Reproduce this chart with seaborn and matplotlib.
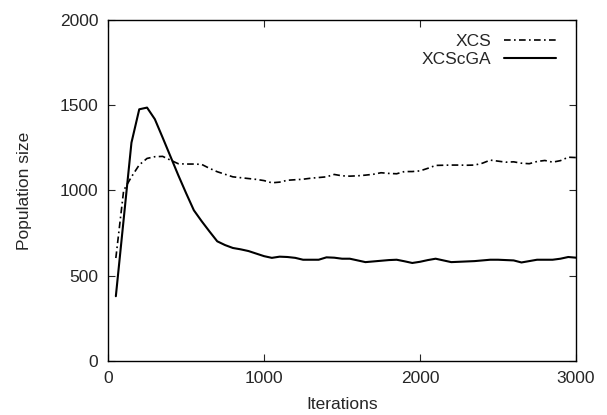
import numpy as np
import pandas as pd
import matplotlib
matplotlib.use("Agg")
import matplotlib.pyplot as plt
import seaborn as sns

# iterations sampled every 50 steps
iterations = list(range(50, 3001, 50))

xcs = [604, 1000, 1080, 1150, 1188, 1198, 1200, 1178, 1157, 1155,
       1155, 1153, 1130, 1110, 1095, 1080, 1075, 1070, 1065, 1058,
       1045, 1049, 1060, 1063, 1066, 1072, 1076, 1080, 1094, 1086,
       1084, 1086, 1090, 1095, 1104, 1100, 1098, 1111, 1111, 1115,
       1130, 1147, 1148, 1149, 1149, 1148, 1149, 1160, 1178, 1172,
       1166, 1168, 1160, 1157, 1170, 1176, 1166, 1175, 1195, 1193]

xcscga = [380, 830, 1280, 1476, 1486, 1418, 1310, 1200, 1090, 985,
          884, 820, 760, 702, 680, 663, 655, 645, 630, 615,
          605, 612, 610, 605, 594, 594, 594, 608, 606, 600,
          600, 590, 580, 584, 588, 592, 594, 585, 575, 582,
          592, 600, 590, 580, 582, 584, 586, 590, 594, 594,
          592, 590, 578, 586, 594, 594, 594, 600, 610, 606]

df = pd.DataFrame({"Iterations": iterations, "XCS": xcs, "XCScGA": xcscga})

sns.set_style("ticks")
plt.rcParams['font.family'] = ['Liberation Sans', 'DejaVu Sans']

fig = plt.figure(figsize=(6.07, 4.15), dpi=100)
ax = fig.add_axes([0.178, 0.130, 0.771, 0.822])

sns.lineplot(data=df, x="Iterations", y="XCS", ax=ax, color="black",
             linewidth=1.2, linestyle=(0, (4, 2, 1, 2)), label="XCS")
sns.lineplot(data=df, x="Iterations", y="XCScGA", ax=ax, color="black",
             linewidth=1.5, label="XCScGA")

ax.set_xlim(0, 3000)
ax.set_ylim(0, 2000)
ax.set_xticks([0, 1000, 2000, 3000])
ax.set_yticks([0, 500, 1000, 1500, 2000])
ax.tick_params(direction="in", top=True, right=True, labelsize=12.5,
               length=5, width=0.8, pad=7)
for s in ax.spines.values():
    s.set_linewidth(1.0)
    s.set_color("black")
ax.set_xlabel("Iterations", fontsize=12.5, labelpad=8)
ax.set_ylabel("Population size", fontsize=12.5, labelpad=20)

ax.legend(loc="upper right", bbox_to_anchor=(0.99, 1.004), frameon=False,
          markerfirst=False, fontsize=12.5, handlelength=3.0,
          labelspacing=0.15, handletextpad=0.7)

fig.savefig("out.png", dpi=100)
